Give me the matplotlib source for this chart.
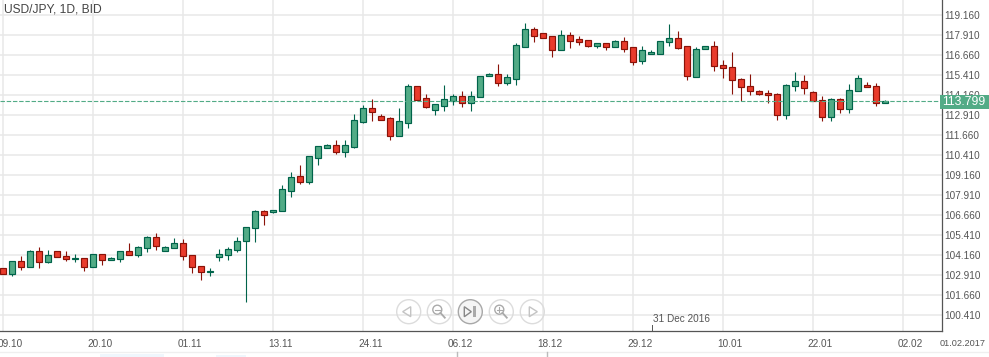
import matplotlib
matplotlib.use("Agg")
import matplotlib.pyplot as plt
from matplotlib.patches import Circle, Polygon, Rectangle
from matplotlib.transforms import ScaledTranslation

opens = [103.33, 102.99, 103.76, 103.39, 104.39, 103.74, 104.39, 104.08, 103.89, 103.95,
         103.39, 104.20, 103.83, 103.89, 104.39, 104.14, 104.58, 105.26, 104.39, 104.58,
         104.89, 104.14, 103.45, 103.08, 104.01, 104.14, 104.45, 105.01, 105.83, 106.89,
         106.83, 106.88, 108.18, 109.08, 108.74, 110.24, 110.87, 111.02, 110.62, 110.93,
         112.49, 113.33, 112.83, 112.70, 111.62, 112.43, 114.70, 113.95, 113.24, 113.49,
         113.81, 114.08, 113.68, 114.05, 115.37, 115.45, 114.93, 115.18, 117.18, 118.27,
         118.02, 117.83, 116.99, 117.89, 117.64, 117.58, 117.24, 117.39, 117.18, 117.52,
         117.14, 116.31, 116.74, 116.74, 117.45, 117.70, 117.20, 115.31, 117.02, 117.20,
         116.02, 115.89, 115.14, 114.70, 114.39, 114.27, 114.20, 112.89, 114.70, 115.02,
         114.33, 113.83, 112.77, 113.89, 113.27, 114.39, 114.77, 114.70, 113.64]
closes = [102.99, 103.76, 103.39, 104.39, 103.70, 104.14, 104.01, 103.89, 103.95, 103.39,
          104.20, 103.83, 103.95, 104.39, 104.14, 104.64, 105.26, 104.70, 104.64, 104.89,
          104.08, 103.39, 103.08, 103.14, 104.20, 104.51, 105.01, 105.89, 106.89, 106.64,
          106.95, 108.27, 109.01, 108.74, 110.33, 110.96, 111.02, 110.62, 111.02, 112.58,
          113.33, 113.12, 112.62, 111.62, 112.52, 114.70, 113.87, 113.43, 113.58, 113.89,
          114.08, 113.68, 114.08, 115.33, 115.45, 114.93, 115.27, 117.27, 118.27, 117.87,
          117.74, 116.99, 117.89, 117.56, 117.49, 117.24, 117.39, 117.18, 117.52, 117.06,
          116.24, 116.96, 116.85, 117.52, 117.70, 117.12, 115.33, 117.02, 117.20, 115.96,
          115.83, 115.08, 114.64, 114.39, 114.20, 114.14, 112.89, 114.77, 115.02, 114.58,
          113.77, 112.77, 113.89, 113.27, 114.45, 115.21, 114.64, 113.64, 113.80]
highs = [103.33, 103.76, 104.10, 104.47, 104.66, 104.47, 104.39, 104.41, 104.22, 103.95,
         104.20, 104.20, 104.01, 104.39, 104.91, 104.72, 105.35, 105.54, 104.72, 105.22,
         105.16, 104.14, 103.45, 103.33, 104.53, 104.64, 105.28, 105.89, 106.95, 106.95,
         106.95, 108.53, 109.35, 109.79, 110.33, 110.96, 111.10, 111.35, 111.35, 112.97,
         113.53, 113.91, 112.97, 112.77, 113.35, 114.85, 114.70, 114.22, 113.58, 114.79,
         114.22, 114.41, 114.41, 115.33, 115.52, 116.10, 115.47, 117.41, 118.66, 118.41,
         118.02, 117.83, 118.22, 118.10, 117.85, 117.58, 117.39, 117.39, 117.60, 117.79,
         117.14, 117.22, 116.97, 117.52, 118.60, 118.16, 117.20, 117.14, 117.20, 117.52,
         116.33, 116.85, 115.21, 115.47, 114.47, 114.47, 114.27, 114.83, 115.60, 115.41,
         114.39, 114.08, 113.95, 113.95, 114.85, 115.41, 114.95, 114.89, 113.83]
lows = [102.99, 102.87, 103.24, 103.39, 103.37, 103.68, 104.01, 103.81, 103.74, 103.18,
        103.39, 103.55, 103.83, 103.74, 104.14, 104.04, 104.35, 104.49, 104.39, 104.58,
        103.87, 103.06, 102.62, 102.87, 103.81, 103.87, 104.37, 101.24, 104.99, 106.03,
        106.76, 106.88, 107.80, 108.62, 108.62, 109.80, 110.87, 110.49, 110.30, 110.87,
        112.43, 112.53, 112.62, 111.35, 111.62, 112.10, 113.87, 113.37, 112.91, 113.16,
        113.53, 113.41, 113.16, 114.05, 115.37, 114.72, 114.79, 114.79, 117.18, 117.47,
        117.74, 116.54, 116.99, 117.10, 117.29, 117.16, 117.10, 116.97, 117.18, 116.85,
        116.04, 116.10, 116.74, 116.74, 117.24, 117.06, 115.12, 115.27, 117.02, 115.68,
        115.22, 114.22, 113.79, 114.16, 114.14, 113.66, 112.60, 112.66, 114.41, 114.22,
        113.77, 112.53, 112.53, 113.05, 113.05, 114.39, 114.64, 113.47, 113.64]

price_ticks = [100.41, 101.66, 102.91, 104.16, 105.41, 106.66, 107.91, 109.16,
               110.41, 111.66, 112.91, 114.16, 115.41, 116.66, 117.91, 119.16]
date_ticks = [0, 10, 20, 30, 40, 50, 60, 70, 80, 90, 100]
date_labels = ["09.10", "20.10", "01.11", "13.11", "24.11", "06.12",
               "18.12", "29.12", "10.01", "22.01", "02.02"]
last_price = 113.799

GREEN = "#52ab86"
GREEN_EDGE = "#00634a"
RED = "#e93b2c"
RED_EDGE = "#8a1208"
GRID = "#e8e8e8"
AXIS = "#555555"
BTN = "#c4c4c4"

plt.rcParams["font.family"] = ["Liberation Sans", "DejaVu Sans"]

W, H = 989, 357
fig = plt.figure(figsize=(W / 100, H / 100), dpi=100)
ax = fig.add_axes([0, 1 - 331 / H, 941.7 / W, 331 / H])
ax.set_xlim(-3.3 / 9, (941.7 - 3.3) / 9)
ax.set_ylim(120.0975 - 331 / 16, 120.0975)

ax.set_axisbelow(True)
ax.grid(True, color=GRID, lw=1.1)
ax.set_xticks(date_ticks)
ax.set_xticklabels(date_labels)
ax.set_yticks(price_ticks)
ax.set_yticklabels([f"{p:.3f}" for p in price_ticks])
ax.yaxis.tick_right()
ax.tick_params(axis="both", length=0, labelsize=7.2, labelcolor=AXIS)
ax.tick_params(axis="y", pad=1.6)
ax.tick_params(axis="x", pad=5.5)
shift = ScaledTranslation(7 / 100, 0, fig.dpi_scale_trans)
for label in ax.get_xticklabels():
    label.set_transform(label.get_transform() + shift)

for side in ["top", "left"]:
    ax.spines[side].set_visible(False)
for side in ["right", "bottom"]:
    ax.spines[side].set_color(AXIS)
    ax.spines[side].set_linewidth(0.9)

for i in range(len(opens)):
    up = closes[i] >= opens[i]
    fill = GREEN if up else RED
    edge = GREEN_EDGE if up else RED_EDGE
    ax.vlines(i, lows[i], highs[i], color=edge, lw=0.8, zorder=2)
    ax.bar(i, abs(closes[i] - opens[i]), bottom=min(opens[i], closes[i]), width=0.68,
           color=fill, edgecolor=edge, linewidth=0.85, zorder=3)

ax.axhline(last_price, color=GREEN, lw=0.8, ls=(0, (4, 1.6)), zorder=4)

# overlay in pixel coordinates for the widget parts around the chart
ui = fig.add_axes([0, 0, 1, 1])
ui.set_xlim(0, W)
ui.set_ylim(H, 0)
ui.axis("off")
ui.patch.set_alpha(0)

ui.text(4, 9.5, "USD/JPY, 1D, BID", fontsize=8.64, color="#444444", va="center")
ui.add_patch(Rectangle((940, 94.6), 49, 14.4, color=GREEN, lw=0))
ui.text(964, 102, last_price, fontsize=8.7, color="white", ha="center", va="center")
ui.text(963, 344, "01.02.2017", fontsize=6.6, color=AXIS, ha="center", va="center")
ui.plot([651.7, 651.7], [325, 331], color=AXIS, lw=0.7)
ui.text(653, 319, "31 Dec 2016", fontsize=7.2, color=AXIS, va="center")

# navigator strip at the bottom
ui.plot([0, W], [351.7, 351.7], color="#efefef", lw=0.9)
for x in [456.7, 546.7]:
    ui.plot([x, x], [352, 357], color="#bbbbbb", lw=1)
ui.add_patch(Rectangle((100, 354), 64, 3, color="#eff6fc", lw=0))
ui.add_patch(Rectangle((216, 355), 30, 2, color="#eff6fc", lw=0))

# zoom / scroll buttons
btn_y = 311.7
btn_x = [408.7, 439.3, 470.3, 501.3, 532.3]
for n, x in enumerate(btn_x):
    mid = n == 2
    ui.add_patch(Circle((x, btn_y), 12, facecolor="#f5f5f5" if mid else "none",
                        edgecolor="#a8a8a8" if mid else "#dcdcdc", lw=1))

ui.add_patch(Polygon([(btn_x[0] - 6, btn_y), (btn_x[0] + 2, btn_y - 5), (btn_x[0] + 2, btn_y + 5)],
                     fill=False, edgecolor=BTN, lw=1))
ui.add_patch(Polygon([(btn_x[4] + 5, btn_y), (btn_x[4] - 3, btn_y - 5), (btn_x[4] - 3, btn_y + 5)],
                     fill=False, edgecolor=BTN, lw=1))
ui.add_patch(Polygon([(btn_x[2] + 1, btn_y), (btn_x[2] - 6, btn_y - 5), (btn_x[2] - 6, btn_y + 5)],
                     fill=False, edgecolor="#888888", lw=1))
ui.add_patch(Rectangle((btn_x[2] + 2.5, btn_y - 5.5), 3, 11, color="#aaaaaa", lw=0))

for x in [btn_x[1], btn_x[3]]:
    cx, cy = x - 2, btn_y - 2
    ui.add_patch(Circle((cx, cy), 4.5, fill=False, edgecolor="#aaaaaa", lw=1))
    ui.plot([cx + 3.2, cx + 7.5], [cy + 3.2, cy + 8], color="#aaaaaa", lw=1.3)
    ui.plot([cx - 2.5, cx + 2.5], [cy, cy], color="#aaaaaa", lw=0.8)
ui.plot([btn_x[3] - 2, btn_x[3] - 2], [btn_y - 4.5, btn_y + 0.5], color="#aaaaaa", lw=0.8)

fig.savefig("out.png", dpi=100)
plt.close(fig)
